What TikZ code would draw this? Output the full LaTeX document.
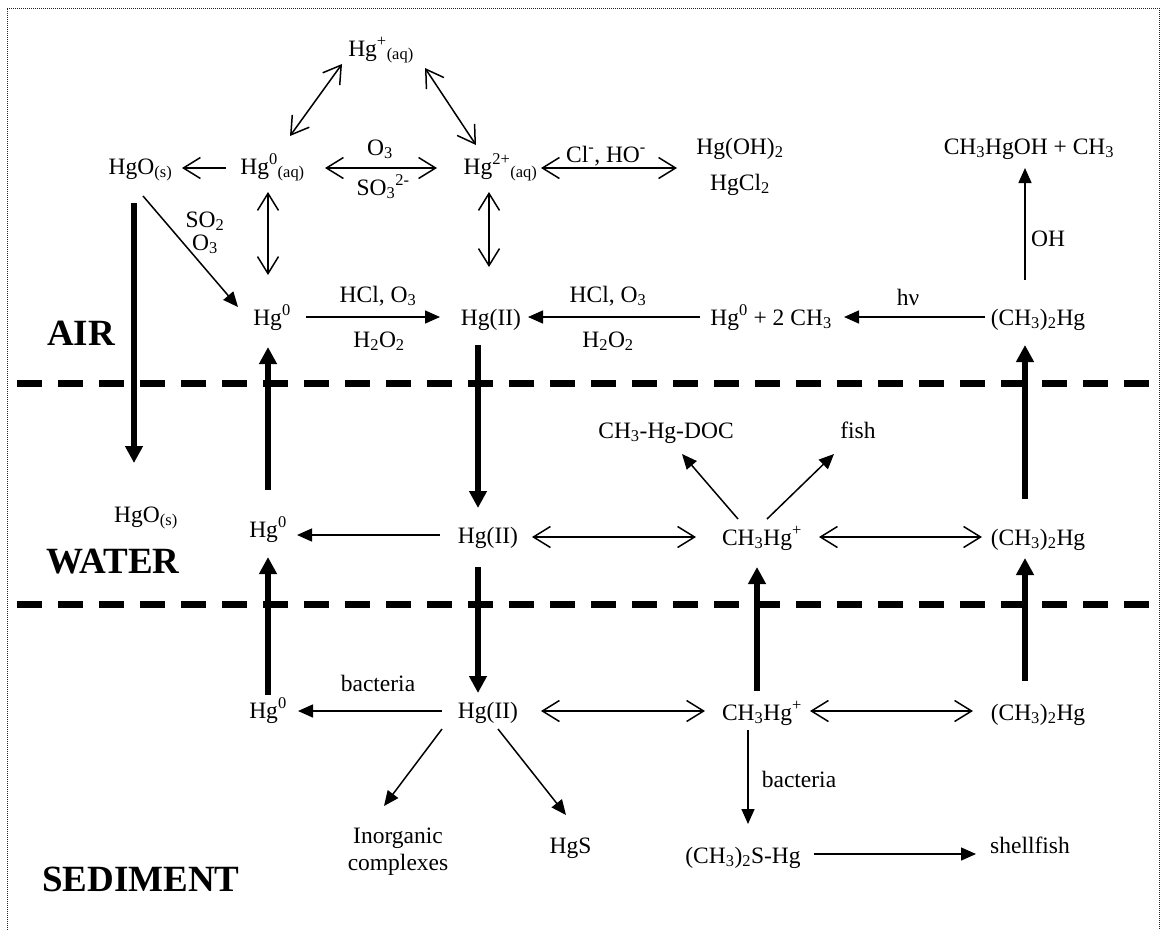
\documentclass[tikz,border=0pt]{standalone}
\usepackage{fontspec}
\setmainfont{Liberation Serif}
\usetikzlibrary{arrows.meta}
\newcommand\chemfont{\fontsize{23.5}{27}\selectfont}
\newcommand\zonefont{\fontsize{37}{44}\selectfont\bfseries}
\newcommand\chsub[1]{\textsubscript{#1}}
\newcommand\chsup[1]{\textsuperscript{#1}}
\begin{document}
\begin{tikzpicture}[x=1pt,y=-1pt,
  chem/.style={inner sep=0pt, anchor=base, font=\chemfont},
  zone/.style={inner sep=0pt, anchor=base, font=\zonefont},
  thinarrow/.style={line width=1.5pt, -{Triangle[length=15pt,width=13pt]}},
  thickarrow/.style={line width=5.5pt, -{Triangle[length=17pt,width=17pt]}},
  openarrow/.style={line width=1.5pt, -{Straight Barb[length=17pt,width=21pt]}},
  twoway/.style={line width=1.5pt, {Straight Barb[length=17pt,width=21pt]}-{Straight Barb[length=17pt,width=21pt]}},
  zoneline/.style={line width=7pt, dash pattern=on 25pt off 16pt},
  frame/.style={line width=1pt, dash pattern=on 1pt off 1pt, black!85}
]
\useasboundingbox (0,0) rectangle (1162,930);
\draw[frame] (7,930) -- (7,8) -- (1159,8) -- (1159,930);

% zone separators
\draw[zoneline] (17,383) -- (1162,383);
\draw[zoneline] (17,604) -- (1162,604);

% zone labels
\node[zone] (air) at (81,345) {AIR};
\node[zone] (water) at (113,573) {WATER};
\node[zone] (sediment) at (141,891) {SEDIMENT};

% air species
\node[chem] (hgp) at (381,56) {Hg\chsup{+}\chsub{(aq)}};
\node[chem] (hgos) at (140.5,174) {HgO\chsub{(s)}};
\node[chem] (hg0aq) at (272.5,174) {Hg\chsup{0}\chsub{(aq)}};
\node[chem] (hg2aq) at (500.5,174) {Hg\chsup{2+}\chsub{(aq)}};
\node[chem] (hgoh) at (740,154) {Hg(OH)\chsub{2}};
\node[chem] (hgcl) at (740,190) {HgCl\chsub{2}};
\node[chem] (ch3hgoh) at (1029,154) {CH\chsub{3}HgOH + CH\chsub{3}};
\node[chem] (hg0a) at (272,325) {Hg\chsup{0}};
\node[chem] (hgIIa) at (491,325) {Hg(II)};
\node[chem] (hg02ch3) at (771,325) {Hg\chsup{0} + 2 CH\chsub{3}};
\node[chem] (dmha) at (1038,325) {(CH\chsub{3})\chsub{2}Hg};

% air labels
\node[chem] (lo3) at (380,155) {O\chsub{3}};
\node[chem] (lso3) at (383,195) {SO\chsub{3}\chsup{2-}};
\node[chem] (lclho) at (606,162) {Cl\chsup{-}, HO\chsup{-}};
\node[chem] (lso2) at (205,227) {SO\chsub{2}};
\node[chem] (lo3b) at (205,250) {O\chsub{3}};
\node[chem] (loh) at (1048,246) {OH};
\node[chem] (lhcl1) at (378,302) {HCl, O\chsub{3}};
\node[chem] (lh2o21) at (379,347) {H\chsub{2}O\chsub{2}};
\node[chem] (lhcl2) at (608,302) {HCl, O\chsub{3}};
\node[chem] (lh2o22) at (608,347) {H\chsub{2}O\chsub{2}};
\node[chem] (lhv) at (908,305) {hν};

% water species
\node[chem] (hgosw) at (146,522) {HgO\chsub{(s)}};
\node[chem] (hg0w) at (268,537) {Hg\chsup{0}};
\node[chem] (hgIIw) at (488,543) {Hg(II)};
\node[chem] (ch3hgw) at (762,545) {CH\chsub{3}Hg\chsup{+}};
\node[chem] (dmhw) at (1038,545) {(CH\chsub{3})\chsub{2}Hg};
\node[chem] (doc) at (666,438) {CH\chsub{3}-Hg-DOC};
\node[chem] (fish) at (858,438) {fish};

% sediment species
\node[chem] (hg0s) at (268,718) {Hg\chsup{0}};
\node[chem] (hgIIs) at (488,718) {Hg(II)};
\node[chem] (ch3hgs) at (762,720) {CH\chsub{3}Hg\chsup{+}};
\node[chem] (dmhs) at (1038,720) {(CH\chsub{3})\chsub{2}Hg};
\node[chem, align=center] (inorg) at (398,870) {Inorganic\\complexes};
\node[chem] (hgs) at (570.5,853) {HgS};
\node[chem] (dmsh) at (743,863) {(CH\chsub{3})\chsub{2}S-Hg};
\node[chem] (shell) at (1030,853) {shellfish};
\node[chem] (lbac1) at (378,691) {bacteria};
\node[chem] (lbac2) at (799,787) {bacteria};

% --- air connectors
\draw[twoway] ([shift={(17.5,-38)}]hg0aq.base) -- ([shift={(-39,8)}]hgp.base);
\draw[twoway] ([shift={(44,12)}]hgp.base) -- ([shift={(-24.5,-29)}]hg2aq.base);
\draw[openarrow] ([shift={(-46.5,-6)}]hg0aq.base) -- ([shift={(41.5,-6)}]hgos.base);
\draw[twoway] ([shift={(52.5,-6)}]hg0aq.base) -- ([shift={(-63.5,-6)}]hg2aq.base);
\draw[twoway] ([shift={(40.5,-6)}]hg2aq.base) -- ([shift={(-63,14)}]hgoh.base);
\draw[thinarrow] ([shift={(2.5,22)}]hgos.base) -- ([shift={(-34,-18)}]hg0a.base);
\draw[twoway] ([shift={(-4.5,18)}]hg0aq.base) -- ([shift={(-4,-50)}]hg0a.base);
\draw[twoway] ([shift={(-11.5,18)}]hg2aq.base) -- ([shift={(-2,-58)}]hgIIa.base);
\draw[thinarrow] ([shift={(34,-8)}]hg0a.base) -- ([shift={(-51,-8)}]hgIIa.base);
\draw[thinarrow] ([shift={(-71,-8)}]hg02ch3.base) -- ([shift={(37,-8)}]hgIIa.base);
\draw[thinarrow] ([shift={(-53,-8)}]dmha.base) -- ([shift={(73,-8)}]hg02ch3.base);
\draw[thinarrow] ([shift={(-13,-45)}]dmha.base) -- ([shift={(-4,14)}]ch3hgoh.base);

% --- thick inter-compartment fluxes
\draw[thickarrow] ([shift={(-6.5,29)}]hgos.base) -- ([shift={(-12,-59)}]hgosw.base);
\draw[thickarrow] ([shift={(0,-47)}]hg0w.base) -- ([shift={(-4,22)}]hg0a.base);
\draw[thickarrow] ([shift={(-13,20)}]hgIIa.base) -- ([shift={(-10,-35)}]hgIIw.base);
\draw[thickarrow] ([shift={(-13,-46)}]dmhw.base) -- ([shift={(-13,20)}]dmha.base);
\draw[thickarrow] ([shift={(-10,24)}]hgIIw.base) -- ([shift={(-10,-25)}]hgIIs.base);
\draw[thickarrow] ([shift={(0,-23)}]hg0s.base) -- ([shift={(0,20)}]hg0w.base);
\draw[thickarrow] ([shift={(-5,-29)}]ch3hgs.base) -- ([shift={(-5,22)}]ch3hgw.base);
\draw[thickarrow] ([shift={(-13,-39)}]dmhs.base) -- ([shift={(-13,13)}]dmhw.base);

% --- water connectors
\draw[thinarrow] ([shift={(-48,-8)}]hgIIw.base) -- ([shift={(29,-2)}]hg0w.base);
\draw[twoway] ([shift={(44,-6)}]hgIIw.base) -- ([shift={(-66,-8)}]ch3hgw.base);
\draw[twoway] ([shift={(57,-8)}]ch3hgw.base) -- ([shift={(-56,-8)}]dmhw.base);
\draw[thinarrow] ([shift={(-24,-26)}]ch3hgw.base) -- ([shift={(16,16)}]doc.base);
\draw[thinarrow] ([shift={(5,-26)}]ch3hgw.base) -- ([shift={(-24,16)}]fish.base);

% --- sediment connectors
\draw[thinarrow] ([shift={(-46,-7)}]hgIIs.base) -- ([shift={(30,-7)}]hg0s.base);
\draw[twoway] ([shift={(53,-7)}]hgIIs.base) -- ([shift={(-57,-9)}]ch3hgs.base);
\draw[twoway] ([shift={(48,-9)}]ch3hgs.base) -- ([shift={(-65,-9)}]dmhs.base);
\draw[thinarrow] ([shift={(-46,11)}]hgIIs.base) -- ([shift={(-14,-64)}]inorg.base);
\draw[thinarrow] ([shift={(10,11)}]hgIIs.base) -- ([shift={(-4.5,-38)}]hgs.base);
\draw[thinarrow] ([shift={(-14,10)}]ch3hgs.base) -- ([shift={(5,-39)}]dmsh.base);
\draw[thinarrow] ([shift={(71,-9)}]dmsh.base) -- ([shift={(-54,1)}]shell.base);
\end{tikzpicture}
\end{document}
